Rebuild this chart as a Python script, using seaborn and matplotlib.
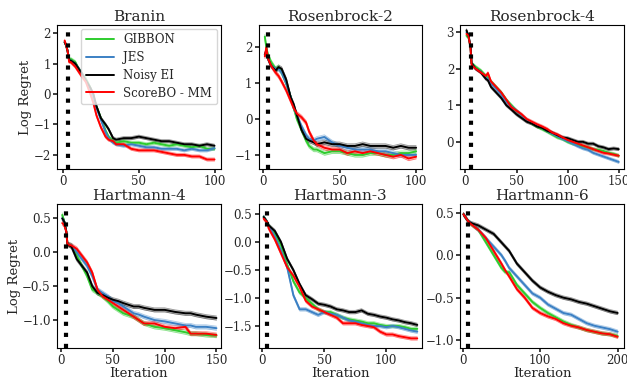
import numpy as np
import pandas as pd
import matplotlib
matplotlib.use("Agg")
import matplotlib.pyplot as plt
import seaborn as sns

sns.set_theme(style="ticks")
plt.rcParams["font.family"] = ["DejaVu Serif"]
plt.rcParams["mathtext.fontset"] = "dejavuserif"

methods = ["GIBBON", "JES", "Noisy EI", "ScoreBO - MM"]
colors = ["#2ecc2e", "#3b80c4", "#000000", "#ff0000"]

# Branin
branin_x = [1, 2, 3, 4, 5, 8, 10, 12, 15, 18, 20, 22, 25, 28, 30, 33, 35, 40, 45, 50, 55, 60, 65, 70, 75, 80, 85, 90, 95, 100]
branin_gibbon = [1.7, 1.6, 1.4, 1.1, 1.15, 1.05, 0.85, 0.7, 0.5, 0.2, -0.1, -0.4, -0.8, -1.2, -1.4, -1.55, -1.6, -1.55, -1.6, -1.6, -1.65, -1.6, -1.65, -1.7, -1.65, -1.7, -1.75, -1.7, -1.8, -1.8]
branin_jes = [1.7, 1.6, 1.4, 1.1, 1.1, 1.0, 0.85, 0.7, 0.45, 0.15, -0.15, -0.45, -0.85, -1.25, -1.45, -1.6, -1.65, -1.7, -1.65, -1.7, -1.75, -1.75, -1.8, -1.8, -1.8, -1.85, -1.8, -1.85, -1.85, -1.78]
branin_nei = [1.7, 1.6, 1.4, 1.1, 1.1, 1.0, 0.85, 0.7, 0.45, 0.2, 0.0, -0.4, -0.8, -1.0, -1.15, -1.45, -1.5, -1.45, -1.45, -1.4, -1.45, -1.5, -1.55, -1.55, -1.6, -1.65, -1.65, -1.7, -1.65, -1.7]
branin_score = [1.75, 1.6, 1.4, 1.05, 1.05, 0.9, 0.75, 0.6, 0.4, 0.0, -0.3, -0.7, -1.1, -1.4, -1.5, -1.55, -1.65, -1.65, -1.8, -1.85, -1.85, -1.85, -1.9, -1.95, -2.0, -2.0, -2.05, -2.05, -2.15, -2.15]

# Rosenbrock-2
rosen2_x = [1, 2, 3, 5, 8, 10, 12, 15, 18, 20, 22, 25, 28, 30, 33, 35, 40, 45, 50, 55, 60, 65, 70, 75, 80, 85, 90, 95, 100]
rosen2_gibbon = [2.3, 2.0, 1.8, 1.6, 1.4, 1.45, 1.3, 1.0, 0.6, 0.3, 0.0, -0.3, -0.6, -0.75, -0.85, -0.85, -0.95, -0.9, -0.9, -0.95, -1.0, -1.0, -0.95, -0.95, -1.0, -1.0, -0.95, -0.95, -0.9]
rosen2_jes = [1.8, 1.9, 1.7, 1.5, 1.4, 1.4, 1.3, 1.0, 0.6, 0.3, 0.1, -0.2, -0.45, -0.55, -0.6, -0.55, -0.5, -0.65, -0.75, -0.8, -0.85, -0.85, -0.85, -0.9, -0.9, -0.95, -1.0, -1.0, -1.0]
rosen2_nei = [1.8, 1.9, 1.7, 1.5, 1.35, 1.45, 1.4, 1.1, 0.6, 0.4, 0.1, -0.3, -0.55, -0.6, -0.65, -0.7, -0.65, -0.7, -0.7, -0.75, -0.75, -0.7, -0.75, -0.75, -0.75, -0.8, -0.75, -0.8, -0.8]
rosen2_score = [1.75, 2.0, 1.7, 1.5, 1.3, 1.2, 1.05, 0.8, 0.5, 0.3, 0.15, 0.05, -0.1, -0.35, -0.6, -0.7, -0.8, -0.85, -0.85, -0.95, -0.9, -0.95, -0.9, -0.95, -1.0, -1.05, -1.0, -1.1, -1.05]

# Rosenbrock-4
rosen4_x = [1, 3, 5, 6, 10, 15, 20, 22, 25, 30, 35, 40, 45, 50, 55, 60, 65, 70, 75, 80, 85, 90, 95, 100, 105, 110, 115, 120, 125, 130, 135, 140, 145, 150]
rosen4_gibbon = [2.9, 2.85, 2.6, 2.15, 2.05, 1.95, 1.8, 1.75, 1.65, 1.5, 1.35, 1.15, 1.0, 0.85, 0.72, 0.6, 0.5, 0.42, 0.35, 0.28, 0.2, 0.12, 0.08, 0.0, -0.05, -0.08, -0.12, -0.15, -0.2, -0.22, -0.25, -0.3, -0.33, -0.38]
rosen4_jes = [3.0, 2.9, 2.6, 2.15, 2.0, 1.92, 1.75, 1.72, 1.6, 1.45, 1.3, 1.1, 0.97, 0.85, 0.72, 0.6, 0.52, 0.45, 0.38, 0.3, 0.22, 0.15, 0.08, 0.02, -0.05, -0.12, -0.18, -0.22, -0.3, -0.35, -0.4, -0.45, -0.5, -0.55]
rosen4_nei = [3.05, 2.9, 2.6, 2.15, 2.0, 1.9, 1.72, 1.68, 1.5, 1.35, 1.2, 1.0, 0.88, 0.75, 0.65, 0.55, 0.5, 0.42, 0.38, 0.3, 0.25, 0.18, 0.12, 0.1, 0.05, 0.0, 0.0, -0.05, -0.05, -0.12, -0.15, -0.2, -0.18, -0.2]
rosen4_score = [2.95, 2.9, 2.55, 2.1, 2.0, 1.9, 1.8, 1.88, 1.65, 1.5, 1.35, 1.15, 0.95, 0.85, 0.75, 0.62, 0.55, 0.48, 0.42, 0.35, 0.25, 0.2, 0.12, 0.05, 0.0, -0.05, -0.1, -0.15, -0.2, -0.25, -0.3, -0.32, -0.35, -0.38]

# Hartmann-4
hart4_x = [1, 3, 5, 6, 10, 15, 20, 25, 30, 35, 40, 45, 50, 55, 60, 70, 75, 80, 90, 100, 110, 120, 125, 130, 140, 150]
hart4_gibbon = [0.55, 0.45, 0.3, 0.12, 0.1, -0.05, -0.2, -0.35, -0.55, -0.6, -0.65, -0.72, -0.8, -0.85, -0.9, -0.95, -1.0, -1.05, -1.1, -1.12, -1.15, -1.18, -1.2, -1.2, -1.22, -1.23]
hart4_jes = [0.5, 0.45, 0.3, 0.12, 0.1, 0.0, -0.1, -0.2, -0.35, -0.55, -0.6, -0.65, -0.72, -0.75, -0.8, -0.9, -0.92, -0.95, -1.0, -1.02, -1.05, -1.08, -1.08, -1.1, -1.1, -1.12]
hart4_nei = [0.5, 0.45, 0.3, 0.12, 0.08, -0.1, -0.2, -0.3, -0.5, -0.6, -0.63, -0.67, -0.7, -0.72, -0.75, -0.8, -0.8, -0.82, -0.85, -0.85, -0.88, -0.9, -0.9, -0.92, -0.95, -0.97]
hart4_score = [0.43, 0.4, 0.3, 0.12, 0.1, 0.05, -0.05, -0.15, -0.3, -0.55, -0.65, -0.7, -0.75, -0.8, -0.85, -0.95, -1.0, -1.05, -1.05, -1.1, -1.12, -1.1, -1.2, -1.2, -1.2, -1.22]

# Hartmann-3
hart3_x = [1, 4, 5, 10, 15, 20, 25, 30, 35, 40, 45, 50, 55, 60, 65, 70, 75, 80, 85, 90, 95, 100, 105, 110, 115, 120, 125]
hart3_gibbon = [0.45, 0.35, 0.3, 0.15, -0.05, -0.4, -0.7, -0.9, -1.0, -1.1, -1.2, -1.25, -1.25, -1.3, -1.35, -1.38, -1.4, -1.42, -1.45, -1.45, -1.48, -1.5, -1.5, -1.5, -1.52, -1.55, -1.55]
hart3_jes = [0.45, 0.35, 0.3, 0.1, -0.15, -0.45, -0.95, -1.2, -1.2, -1.25, -1.3, -1.25, -1.28, -1.3, -1.35, -1.4, -1.42, -1.45, -1.48, -1.5, -1.5, -1.52, -1.5, -1.52, -1.55, -1.58, -1.6]
hart3_nei = [0.45, 0.35, 0.3, 0.2, 0.0, -0.3, -0.5, -0.75, -0.95, -1.02, -1.1, -1.12, -1.15, -1.2, -1.22, -1.25, -1.25, -1.22, -1.28, -1.3, -1.33, -1.35, -1.38, -1.4, -1.43, -1.45, -1.48]
hart3_score = [0.42, 0.35, 0.25, 0.05, -0.2, -0.45, -0.6, -0.8, -1.05, -1.15, -1.2, -1.25, -1.3, -1.35, -1.45, -1.45, -1.45, -1.48, -1.5, -1.52, -1.6, -1.65, -1.65, -1.68, -1.7, -1.72, -1.72]

# Hartmann-6
hart6_x = [1, 7, 10, 20, 30, 40, 50, 55, 60, 70, 80, 90, 100, 110, 120, 130, 140, 150, 160, 170, 180, 190, 200]
hart6_gibbon = [0.48, 0.4, 0.37, 0.3, 0.15, 0.0, -0.15, -0.2, -0.2, -0.35, -0.45, -0.55, -0.62, -0.68, -0.73, -0.78, -0.82, -0.85, -0.88, -0.9, -0.92, -0.93, -0.95]
hart6_jes = [0.48, 0.4, 0.38, 0.3, 0.2, 0.1, 0.0, -0.07, -0.15, -0.25, -0.35, -0.45, -0.5, -0.58, -0.63, -0.68, -0.7, -0.75, -0.8, -0.83, -0.85, -0.87, -0.9]
hart6_nei = [0.48, 0.4, 0.38, 0.35, 0.3, 0.25, 0.15, 0.1, 0.05, -0.1, -0.2, -0.3, -0.38, -0.43, -0.47, -0.5, -0.52, -0.55, -0.57, -0.6, -0.63, -0.66, -0.68]
hart6_score = [0.48, 0.4, 0.37, 0.3, 0.2, 0.05, -0.1, -0.18, -0.25, -0.4, -0.5, -0.62, -0.68, -0.72, -0.75, -0.8, -0.83, -0.85, -0.88, -0.9, -0.92, -0.93, -0.96]

titles = ["Branin", "Rosenbrock-2", "Rosenbrock-4", "Hartmann-4", "Hartmann-3", "Hartmann-6"]
init_iters = [3, 3, 5, 5, 4, 7]
band_width = [0.05, 0.06, 0.04, 0.03, 0.03, 0.02]

panels = [
    (branin_x, [branin_gibbon, branin_jes, branin_nei, branin_score]),
    (rosen2_x, [rosen2_gibbon, rosen2_jes, rosen2_nei, rosen2_score]),
    (rosen4_x, [rosen4_gibbon, rosen4_jes, rosen4_nei, rosen4_score]),
    (hart4_x, [hart4_gibbon, hart4_jes, hart4_nei, hart4_score]),
    (hart3_x, [hart3_gibbon, hart3_jes, hart3_nei, hart3_score]),
    (hart6_x, [hart6_gibbon, hart6_jes, hart6_nei, hart6_score]),
]
xlims = [(-4, 104), (-3, 104), (-5, 155), (-4, 154), (-3, 129), (-3, 208)]
ylims = [(-2.46, 2.26), (-1.39, 2.62), (-0.74, 3.19), (-1.41, 0.71), (-1.89, 0.68), (-1.09, 0.60)]

fig, axes = plt.subplots(2, 3, figsize=(6.27, 3.81), dpi=100)
fig.subplots_adjust(left=0.091, right=0.995, top=0.934, bottom=0.087, wspace=0.233, hspace=0.245)

for k, ax in enumerate(axes.flat):
    x, series = panels[k]
    df = pd.DataFrame({
        "Iteration": np.tile(x, len(methods)),
        "regret": np.concatenate(series),
        "method": np.repeat(methods, len(x)),
    })
    for m, c, s in zip(methods, colors, series):
        lo = np.array(s) - band_width[k]
        hi = np.array(s) + band_width[k]
        ax.fill_between(x, lo, hi, color=c, alpha=0.25, linewidth=0)
        ax.plot(x, lo, color=c, alpha=0.4, linewidth=0.6)
        ax.plot(x, hi, color=c, alpha=0.4, linewidth=0.6)
    sns.lineplot(data=df, x="Iteration", y="regret", hue="method", palette=colors,
                 linewidth=1.4, ax=ax, legend=(k == 0))
    ax.axvline(init_iters[k], color="black", linestyle=":", linewidth=3, zorder=5)
    ax.set_xlim(*xlims[k])
    ax.set_ylim(*ylims[k])
    ax.set_title(titles[k], fontsize=11, pad=3)
    ax.tick_params(labelsize=8.5, length=3, pad=1.5)
    ax.set_xlabel("Iteration" if k >= 3 else "", fontsize=9.5, labelpad=0)
    ax.set_ylabel("Log Regret" if k % 3 == 0 else "", fontsize=9.5, labelpad=1)
    for sp in ax.spines.values():
        sp.set_color("black")
        sp.set_linewidth(0.8)

leg = axes[0, 0].legend(loc="upper right", fontsize=8.5, frameon=True, handlelength=2.4,
                        borderpad=0.4, labelspacing=0.4, borderaxespad=0.3)
leg.get_frame().set_edgecolor("#cccccc")

plt.savefig("out.png", dpi=100)
plt.close()
